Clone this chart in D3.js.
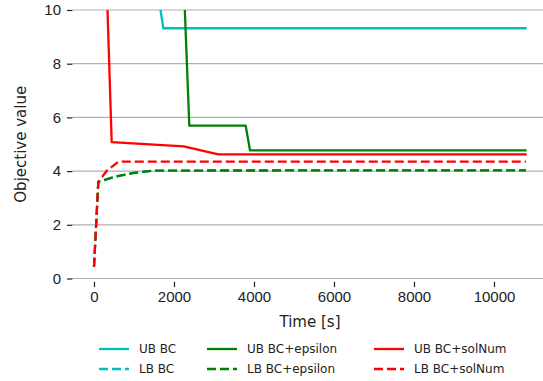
<!DOCTYPE html>
<html>
<head>
<meta charset="utf-8">
<script src="https://cdn.jsdelivr.net/npm/d3@7"></script>
<style>
  body { margin: 0; background: #fff; }
  svg { font-family: "DejaVu Sans", sans-serif; }
</style>
</head>
<body>
<svg id="plot" width="543" height="381"></svg>
<script>
// series data (time in s, objective value)
var ubBcT = [1600, 1733, 10817],
    ubBcV = [10.6, 9.32, 9.32];
var lbBcT = [0, 108, 500, 1000, 1480, 10800],
    lbBcV = [0.44, 3.6, 3.78, 3.93, 4.02, 4.03];
var ubEpsT = [2255, 2383, 3792, 3900, 10817],
    ubEpsV = [10.6, 5.69, 5.69, 4.77, 4.77];
var lbEpsT = [0, 108, 500, 1000, 1480, 10800],
    lbEpsV = [0.44, 3.6, 3.78, 3.93, 4.02, 4.03];
var ubSolT = [325, 442, 2242, 3108, 10817],
    ubSolV = [10.6, 5.08, 4.92, 4.62, 4.62];
var lbSolT = [0, 108, 330, 610, 10800],
    lbSolV = [0.44, 3.6, 4.03, 4.35, 4.35];

var xTicks = [0, 2000, 4000, 6000, 8000, 10000];
var yTicks = [0, 2, 4, 6, 8, 10];

var series = [
  {name: "UB BC", t: ubBcT, v: ubBcV, color: "#00bfbf", dash: null},
  {name: "LB BC", t: lbBcT, v: lbBcV, color: "#00bfbf", dash: "9,4"},
  {name: "UB BC+epsilon", t: ubEpsT, v: ubEpsV, color: "#008000", dash: null},
  {name: "LB BC+epsilon", t: lbEpsT, v: lbEpsV, color: "#008000", dash: "9,4"},
  {name: "UB BC+solNum", t: ubSolT, v: ubSolV, color: "#ff0000", dash: null},
  {name: "LB BC+solNum", t: lbSolT, v: lbSolV, color: "#ff0000", dash: "9,4"}
];

var svg = d3.select("#plot");

var x = d3.scaleLinear().domain([-540, 11340]).range([72.4, 547.6]);
var y = d3.scaleLinear().domain([0, 10]).range([278.5, 10]);

svg.append("defs").append("clipPath")
    .attr("id", "clip")
  .append("rect")
    .attr("x", x.range()[0])
    .attr("y", y(10))
    .attr("width", x.range()[1] - x.range()[0])
    .attr("height", y(0) - y(10));

// horizontal grid
svg.append("g")
  .selectAll("line")
  .data(yTicks)
  .enter().append("line")
    .attr("x1", x.range()[0])
    .attr("x2", x.range()[1])
    .attr("y1", function(d) { return y(d); })
    .attr("y2", function(d) { return y(d); })
    .attr("stroke", "#b0b0b0")
    .attr("stroke-width", 1.2);

// y axis (no spine)
var yAxis = svg.append("g")
    .attr("transform", "translate(" + x.range()[0] + ",0)")
    .call(d3.axisLeft(y).tickValues(yTicks).tickSize(5.4).tickPadding(6));
yAxis.select(".domain").remove();
yAxis.selectAll("text").attr("font-size", 15).attr("fill", "#222");
yAxis.selectAll("line").attr("stroke", "#222").attr("stroke-width", 1.2);

// x axis, ticks start a bit under the plot
var xAxis = svg.append("g")
    .attr("transform", "translate(0," + (y(0) + 3.2) + ")")
    .call(d3.axisBottom(x).tickValues(xTicks).tickFormat(d3.format("d")).tickSize(5.4).tickPadding(4));
xAxis.select(".domain").remove();
xAxis.selectAll("text").attr("font-size", 15).attr("fill", "#222");
xAxis.selectAll("line").attr("stroke", "#222").attr("stroke-width", 1.2);

svg.append("text")
    .attr("x", (x.range()[0] + x.range()[1]) / 2)
    .attr("y", 327)
    .attr("text-anchor", "middle")
    .attr("font-size", 15)
    .attr("fill", "#222")
    .text("Time [s]");

svg.append("text")
    .attr("transform", "translate(26," + ((y(0) + y(10)) / 2) + ") rotate(-90)")
    .attr("text-anchor", "middle")
    .attr("font-size", 15)
    .attr("fill", "#222")
    .text("Objective value");

var line = d3.line()
    .x(function(d) { return x(d[0]); })
    .y(function(d) { return y(d[1]); });

svg.append("g")
    .attr("clip-path", "url(#clip)")
  .selectAll("path")
  .data(series)
  .enter().append("path")
    .attr("d", function(s) { return line(d3.zip(s.t, s.v)); })
    .attr("fill", "none")
    .attr("stroke", function(s) { return s.color; })
    .attr("stroke-width", 2.3)
    .attr("stroke-dasharray", function(s) { return s.dash; })
    .attr("stroke-linejoin", "round");

// legend, 3 columns filled column-wise
var colX = [99, 207, 374],
    rowY = [349, 369];
var leg = svg.append("g").selectAll("g")
  .data(series)
  .enter().append("g")
    .attr("transform", function(s, i) {
      return "translate(" + colX[Math.floor(i / 2)] + "," + rowY[i % 2] + ")";
    });
leg.append("line")
    .attr("x1", 0).attr("x2", 30)
    .attr("stroke", function(s) { return s.color; })
    .attr("stroke-width", 2.3)
    .attr("stroke-dasharray", function(s) { return s.dash; });
leg.append("text")
    .attr("x", 40)
    .attr("dy", "0.35em")
    .attr("font-size", 12)
    .attr("fill", "#222")
    .text(function(s) { return s.name; });
</script>
</body>
</html>
